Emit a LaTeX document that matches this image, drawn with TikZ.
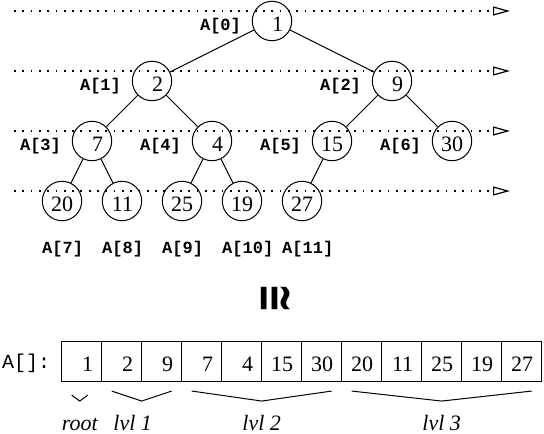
\documentclass[tikz,border=0pt]{standalone}
\usepackage{fontspec}
\setmainfont{Liberation Serif}
\setmonofont{Liberation Mono}
\newfontfamily\symfont{DejaVu Sans}
\usepackage{graphicx}
\usepackage{tikz}
\usetikzlibrary{positioning,calc,arrows.meta}

\tikzset{
  key/.style={circle,draw,line width=0.5pt,minimum size=19.7pt,inner sep=0pt,
    text width=11pt,align=right,text height=10.3pt,text depth=0pt,
    font=\fontsize{11}{12}\selectfont},
  idx/.style={inner sep=0pt,font=\fontsize{8.5}{10}\selectfont\ttfamily\bfseries},
  cell/.style={rectangle,draw,line width=0.5pt,outer sep=0pt,minimum width=20pt,
    minimum height=19.85pt,inner xsep=4.25pt,text width=11.5pt,align=right,
    text height=10.3pt,text depth=0pt,font=\fontsize{11}{12}\selectfont},
  guide/.style={line width=0.6pt,dash pattern=on 0.9pt off 3.25pt,
    -{Triangle[open,length=8.5pt,width=4.5pt]}},
  lvl/.style={inner sep=0pt,font=\fontsize{11}{12}\selectfont\itshape}
}

\begin{document}
\begin{tikzpicture}[x=0.5pt,y=-0.5pt]
\useasboundingbox (0,0) rectangle (544,433);
% levels
\foreach \r in {0,...,3}
  \draw[guide] (14,{11+60*\r}) -- (510,{11+60*\r});
% heap as a tree
\node[key] (n0) at (272,21) {1};
\node[key] (n1) at (152,81) {2};
\node[key] (n2) at (392,81) {9};
\node[key] (n3) at (92,141) {7};
\node[key] (n4) at (212,141) {4};
\node[key] (n5) at (332,141) {15};
\node[key] (n6) at (452,141) {30};
\node[key] (n7) at (62,201) {20};
\node[key] (n8) at (122,201) {11};
\node[key] (n9) at (182,201) {25};
\node[key] (n10) at (242,201) {19};
\node[key] (n11) at (302,201) {27};
\foreach \p/\c in {0/1,0/2,1/3,1/4,2/5,2/6,3/7,3/8,4/9,4/10,5/11}
  \draw[line width=0.5pt] (n\p) -- (n\c);
\foreach \i in {0,...,6}
  \node[idx,left=5.25pt of n\i,yshift=-2.75pt] (a\i) {A[\i]};
\foreach \i in {7,...,11}
  \node[idx,anchor=west] (a\i) at ([yshift=-24pt]n\i.west) {A[\i]};
% same thing
\node[inner sep=0pt] (iso) at (274.5,298) {\resizebox*{15.5pt}{15pt}{\rotatebox{-90}{\symfont\bfseries ≅}}};
% heap as an array
\foreach \v [count=\i from 0] in {1,2,9,7,4,15,30,20,11,25,19,27}
  \node[cell] (c\i) at (81.7+40*\i,361.2) {\v};
\node[inner sep=0pt,left=5.6pt of c0,yshift=-1pt,font=\fontsize{10}{12}\selectfont\ttfamily] (arr) {A[]:};
\foreach \a/\b/\l/\r/\d/\o/\t in {0/0/10/14/14/0/root,1/2/10/10/10/-9/lvl 1,3/6/10/10/10/0/lvl 2,7/11/10/10/10/0/lvl 3}{
  \coordinate (ll\a) at ($(c\a.south west)+(\l,\d)$);
  \coordinate (rr\a) at ($(c\b.south east)+(-\r,\d)$);
  \coordinate (t\a) at ($(ll\a)!.5!(rr\a)+(0,20-\d)$);
  \draw[line width=0.5pt] (ll\a) -- (t\a) -- (rr\a);
  \node[lvl,anchor=base] (g\a) at ($(t\a)+(\o,29)$) {\t};
}
\end{tikzpicture}
\end{document}
